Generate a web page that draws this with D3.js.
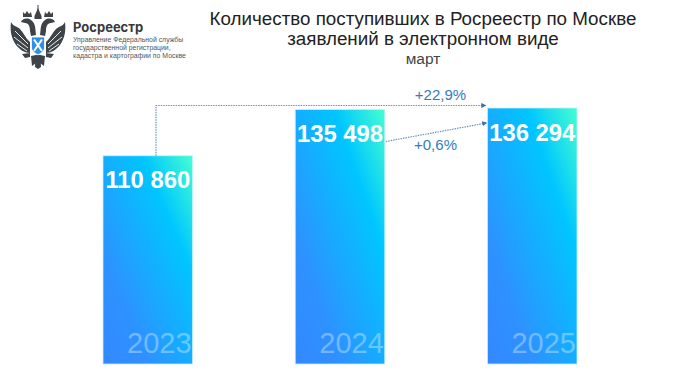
<!DOCTYPE html>
<html lang="en">
<head>
    <meta charset="UTF-8">
    <title>Росреестр</title>
    <script src="https://d3js.org/d3.v7.min.js"></script>
    <style>
        html, body { margin: 0; padding: 0; background: #fff; }
        svg { display: block; font-family: "Liberation Sans", sans-serif; }
    </style>
</head>
<body>
<svg id="chart" width="698" height="392"></svg>
<script>
    const years = ["2023", "2024", "2025"];
    const values = [110860, 135498, 136294];
    const valueLabels = ["110 860", "135 498", "136 294"];
    const changeLabels = ["+22,9%", "+0,6%"];
    const titleLines = ["Количество поступивших в Росреестр по Москве", "заявлений в электронном виде"];
    const subtitle = "март";
    const orgLines = ["Управление Федеральной службы", "государственной регистрации,", "кадастра и картографии по Москве"];

    const svg = d3.select("#chart");
    const defs = svg.append("defs");

    const x = d3.scaleBand().domain(years).range([103, 577]).paddingInner(0.534);
    const y = d3.scaleLinear().domain([0, d3.max(values)]).range([364, 108]);

    const grad = defs.append("linearGradient").attr("id", "barGrad")
        .attr("x1", 0).attr("y1", 1).attr("x2", 1).attr("y2", 0);
    grad.append("stop").attr("offset", "0%").attr("stop-color", "#3388ff");
    grad.append("stop").attr("offset", "25%").attr("stop-color", "#2e91ff");
    grad.append("stop").attr("offset", "72%").attr("stop-color", "#00c6ff");
    grad.append("stop").attr("offset", "100%").attr("stop-color", "#45ffd0");

    defs.append("marker").attr("id", "head")
        .attr("viewBox", "0 0 6 6").attr("refX", 5).attr("refY", 3)
        .attr("markerWidth", 5).attr("markerHeight", 5).attr("markerUnits", "userSpaceOnUse")
        .attr("orient", "auto")
        .append("path").attr("d", "M0,0L6,3L0,6Z").attr("fill", "#3f6fa8");

    // bars
    svg.selectAll("rect.bar")
        .data(years)
        .enter()
        .append("rect")
        .attr("class", "bar")
        .attr("x", d => x(d))
        .attr("y", (d, i) => y(values[i]))
        .attr("width", x.bandwidth())
        .attr("height", (d, i) => y(0) - y(values[i]))
        .attr("fill", "url(#barGrad)")
        .attr("stroke", "#c4eeff")
        .attr("stroke-width", 0.8);

    svg.selectAll("text.value")
        .data(valueLabels)
        .enter()
        .append("text")
        .attr("class", "value")
        .attr("x", (d, i) => x(years[i]) + x.bandwidth() / 2)
        .attr("y", (d, i) => y(values[i]) + 32.5)
        .attr("text-anchor", "middle")
        .attr("font-size", 23.8)
        .attr("font-weight", "bold")
        .attr("fill", "#fff")
        .text(d => d);

    svg.selectAll("text.year")
        .data(years)
        .enter()
        .append("text")
        .attr("class", "year")
        .attr("x", d => x(d) + x.bandwidth() - 1)
        .attr("y", 353)
        .attr("text-anchor", "end")
        .attr("font-size", 29)
        .attr("fill", "#fff")
        .attr("fill-opacity", 0.35)
        .text(d => d);

    // change arrows
    const arrowColor = "#6a93c4";
    const x0 = x(years[0]) + 53;
    const y0 = y(values[0]);
    svg.append("path")
        .attr("d", d3.line()([[x0, y0], [x0, 105.5], [x(years[2]) - 2, 105.5]]))
        .attr("fill", "none")
        .attr("stroke", arrowColor)
        .attr("stroke-width", 1.2)
        .attr("stroke-dasharray", "1.5 1")
        .attr("marker-end", "url(#head)");
    svg.append("path")
        .attr("d", d3.line()([[x(years[1]) + x.bandwidth() + 1, 141.5], [x(years[2]) - 1, 123]]))
        .attr("fill", "none")
        .attr("stroke", arrowColor)
        .attr("stroke-width", 1.2)
        .attr("stroke-dasharray", "1.5 1")
        .attr("marker-end", "url(#head)");

    svg.append("text").attr("x", 440.5).attr("y", 100)
        .attr("text-anchor", "middle").attr("font-size", 15).attr("fill", "#2f7cc0")
        .text(changeLabels[0]);
    svg.append("text").attr("x", 435.5).attr("y", 150)
        .attr("text-anchor", "middle").attr("font-size", 15).attr("fill", "#2f7cc0")
        .text(changeLabels[1]);

    // title
    svg.selectAll("text.title")
        .data(titleLines)
        .enter()
        .append("text")
        .attr("class", "title")
        .attr("x", 423)
        .attr("y", (d, i) => 25 + i * 20)
        .attr("text-anchor", "middle")
        .attr("font-size", 18.8)
        .attr("fill", "#222")
        .text(d => d);
    svg.append("text").attr("x", 423).attr("y", 64)
        .attr("text-anchor", "middle").attr("font-size", 15.5).attr("fill", "#444")
        .text(subtitle);

    // logo
    svg.append("text").attr("x", 73).attr("y", 32)
        .attr("font-family", "Inter").attr("font-size", 13).attr("font-weight", "bold").attr("fill", "#3a3a3a")
        .text("Росреестр");
    svg.selectAll("text.org")
        .data(orgLines)
        .enter()
        .append("text")
        .attr("class", "org")
        .attr("x", 73)
        .attr("y", (d, i) => 42 + i * 8)
        .attr("font-size", 6.9)
        .attr("fill", "#555")
        .text(d => d);

    const logo = svg.append("g").attr("fill", "#3e4347");
    // wings
    [1, -1].forEach(s => {
        const w = logo.append("g").attr("transform", `translate(38,0) scale(${s},1)`);
        w.append("path").attr("d", "M8,42 C13,38 15,30 21,27 C24,26 26,24 27,22 C28,30 27,38 22,45 C18,50 13,53 8,53Z");
        w.append("path").attr("d", "M10,44 L23,31 M10,48 L24,37 M11,51 L21,44")
            .attr("stroke", "#fff").attr("stroke-width", 0.9).attr("fill", "none");
        // neck and head
        w.append("path").attr("d", "M2,35 C3,28 2,24 7,20 C11,17 16,19 17,22 L13,23 C9,23 8,27 8,31 L7,36Z");
        // crown
        w.append("path").attr("d", "M6,17 L7,12 L9,14 L11,11 L13,14 L15,12 L15,17Z");
        // leg and tail side
        w.append("path").attr("d", "M8,53 L16,54 L13,58 L8,57Z M2,55 L7,56 L6,66 L2,63Z");
    });
    logo.append("path").attr("d", "M34.5,16 L38,8 L41.5,16 L41.5,19 L34.5,19Z");
    logo.append("rect").attr("x", 37.5).attr("y", 5).attr("width", 1).attr("height", 5);
    logo.append("path").attr("d", "M35.5,55 L40.5,55 L41,67 L38,69 L35,67Z");
    logo.append("path").attr("d", "M31.5,37 H44.5 V48 C44.5,51 41,53 38,55 C35,53 31.5,51 31.5,48Z")
        .attr("fill", "#2f8fe8").attr("stroke", "#fff").attr("stroke-width", 0.8);
    logo.append("path").attr("d", "M34,39.5 L42,51 M42,39.5 L34,51")
        .attr("stroke", "#fff").attr("stroke-width", 2).attr("fill", "none");
</script>
</body>
</html>
